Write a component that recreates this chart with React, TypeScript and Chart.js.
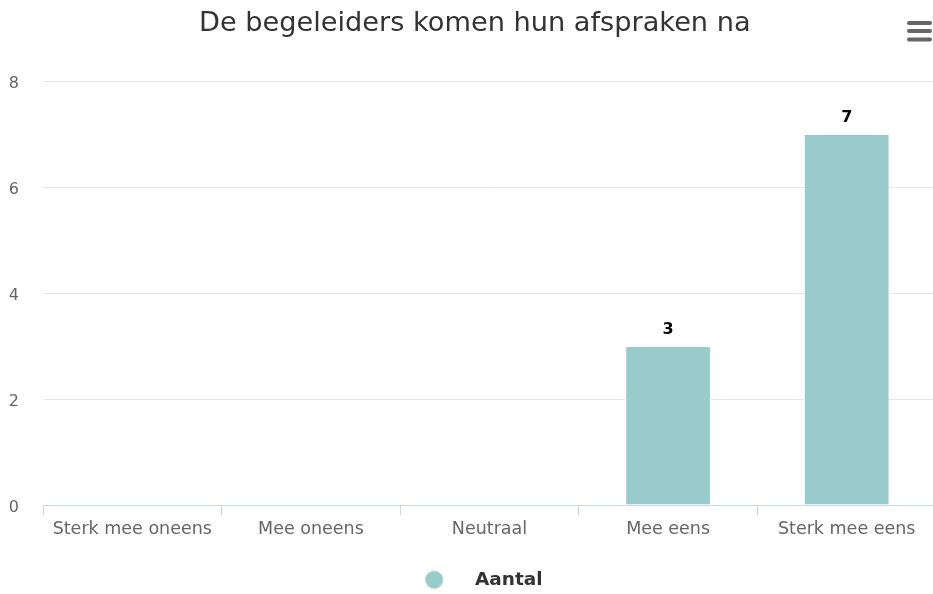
import React, { useEffect, useRef } from "react";
import { Chart, registerables } from "chart.js";

Chart.register(...registerables);

const title = "De begeleiders komen hun afspraken na";
const categories = ["Sterk mee oneens", "Mee oneens", "Neutraal", "Mee eens", "Sterk mee eens"];
const seriesName = "Aantal";
const values = [0, 0, 0, 3, 7];
const yMin = 0;
const yMax = 8;
const yStep = 2;

const FONT = "'DejaVu Sans', sans-serif";
const BAR_COLOR = "#9acbcb";
const TITLE_SIZE = 27.2;
const LEGEND_SIZE = 18.5;
const LEGEND_PAD = 5;
const CANVAS_H = 599;

function makeLegendMarker(width: number, offset: number) {
  const c = document.createElement("canvas");
  c.width = Math.round(width);
  c.height = 20;
  const ctx = c.getContext("2d")!;
  ctx.fillStyle = BAR_COLOR;
  ctx.beginPath();
  ctx.arc(offset, 10, 9, 0, Math.PI * 2);
  ctx.fill();
  return c;
}

const dataLabelPlugin = {
  id: "dataLabels",
  afterDatasetsDraw(chart: any) {
    const ctx = chart.ctx;
    ctx.save();
    ctx.font = `bold 16px ${FONT}`;
    ctx.fillStyle = "#000000";
    ctx.textAlign = "center";
    ctx.textBaseline = "alphabetic";
    chart.data.datasets.forEach((ds: any, di: number) => {
      const meta = chart.getDatasetMeta(di);
      meta.data.forEach((el: any, i: number) => {
        const v = ds.data[i];
        if (!v) return;
        ctx.fillText(String(v), el.x, el.y - 12);
      });
    });
    ctx.restore();
  },
};

const menuIconPlugin = {
  id: "menuIcon",
  afterDraw(chart: any) {
    const ctx = chart.ctx;
    ctx.save();
    ctx.strokeStyle = "#666666";
    ctx.lineWidth = 4;
    ctx.lineCap = "round";
    [23, 31, 39.5].forEach((y) => {
      ctx.beginPath();
      ctx.moveTo(909, y);
      ctx.lineTo(930, y);
      ctx.stroke();
    });
    ctx.restore();
  },
};

export default function App() {
  const ref = useRef<HTMLCanvasElement | null>(null);

  useEffect(() => {
    const canvas = ref.current!;
    const m = document.createElement("canvas").getContext("2d")!;
    m.font = `bold ${LEGEND_SIZE}px ${FONT}`;
    const tw = m.measureText(seriesName).width;
    const center = 468;
    const textStart = 475;
    const circleX = 434;
    const W = 2 * (textStart - center) + tw - LEGEND_SIZE / 2;
    const L = center - (W + LEGEND_SIZE / 2 + tw) / 2;
    const marker = makeLegendMarker(W, circleX - L);

    const chart = new Chart(canvas, {
      type: "bar",
      data: {
        labels: categories,
        datasets: [
          {
            label: seriesName,
            data: values,
            backgroundColor: BAR_COLOR,
            borderColor: "#ffffff",
            borderWidth: 1,
            categoryPercentage: 1,
            barPercentage: 0.48,
          },
        ],
      },
      options: {
        responsive: false,
        animation: false,
        layout: { padding: 0 },
        plugins: {
          title: {
            display: true,
            text: "\u2002" + title,
            color: "#333333",
            font: { family: FONT, size: TITLE_SIZE, weight: "normal" },
            padding: { top: 8, bottom: 81 - 8 - TITLE_SIZE * 1.2 },
          },
          legend: {
            display: true,
            position: "bottom",
            labels: {
              usePointStyle: true,
              pointStyle: marker as any,
              pointStyleWidth: W,
              boxHeight: 13,
              padding: LEGEND_PAD,
              color: "#333333",
              font: { family: FONT, size: LEGEND_SIZE, weight: "bold" },
            },
          },
          tooltip: { enabled: false },
        },
        scales: {
          x: {
            offset: true,
            afterFit(scale: any) {
              scale.height = CANVAS_H - (LEGEND_SIZE + LEGEND_PAD + 10) - 505;
            },
            grid: {
              display: true,
              offset: true,
              drawOnChartArea: false,
              drawTicks: true,
              tickLength: 10,
              color: "#ccd6eb",
            },
            border: { display: true, color: "#ccd6eb", width: 1 },
            ticks: {
              color: "#666666",
              font: { family: FONT, size: 17.5 },
              padding: 4,
              maxRotation: 0,
              autoSkip: false,
            },
          },
          y: {
            min: yMin,
            max: yMax,
            afterFit(scale: any) {
              scale.width = 43;
            },
            grid: {
              color: (c: any) => (c.tick && c.tick.value === 0 ? "rgba(0,0,0,0)" : "#e6e6e6"),
              drawTicks: false,
            },
            border: { display: false },
            ticks: {
              stepSize: yStep,
              color: "#666666",
              font: { family: FONT, size: 16 },
              padding: 24,
              labelOffset: 3,
            },
          },
        },
      },
      plugins: [dataLabelPlugin, menuIconPlugin],
    });
    return () => chart.destroy();
  }, []);

  return (
    <div style={{ position: "fixed", left: 0, top: 0, width: 933, height: 594, overflow: "hidden", background: "#fff" }}>
      <canvas ref={ref} width={936} height={CANVAS_H} style={{ display: "block", width: 936, height: CANVAS_H }} />
    </div>
  );
}
